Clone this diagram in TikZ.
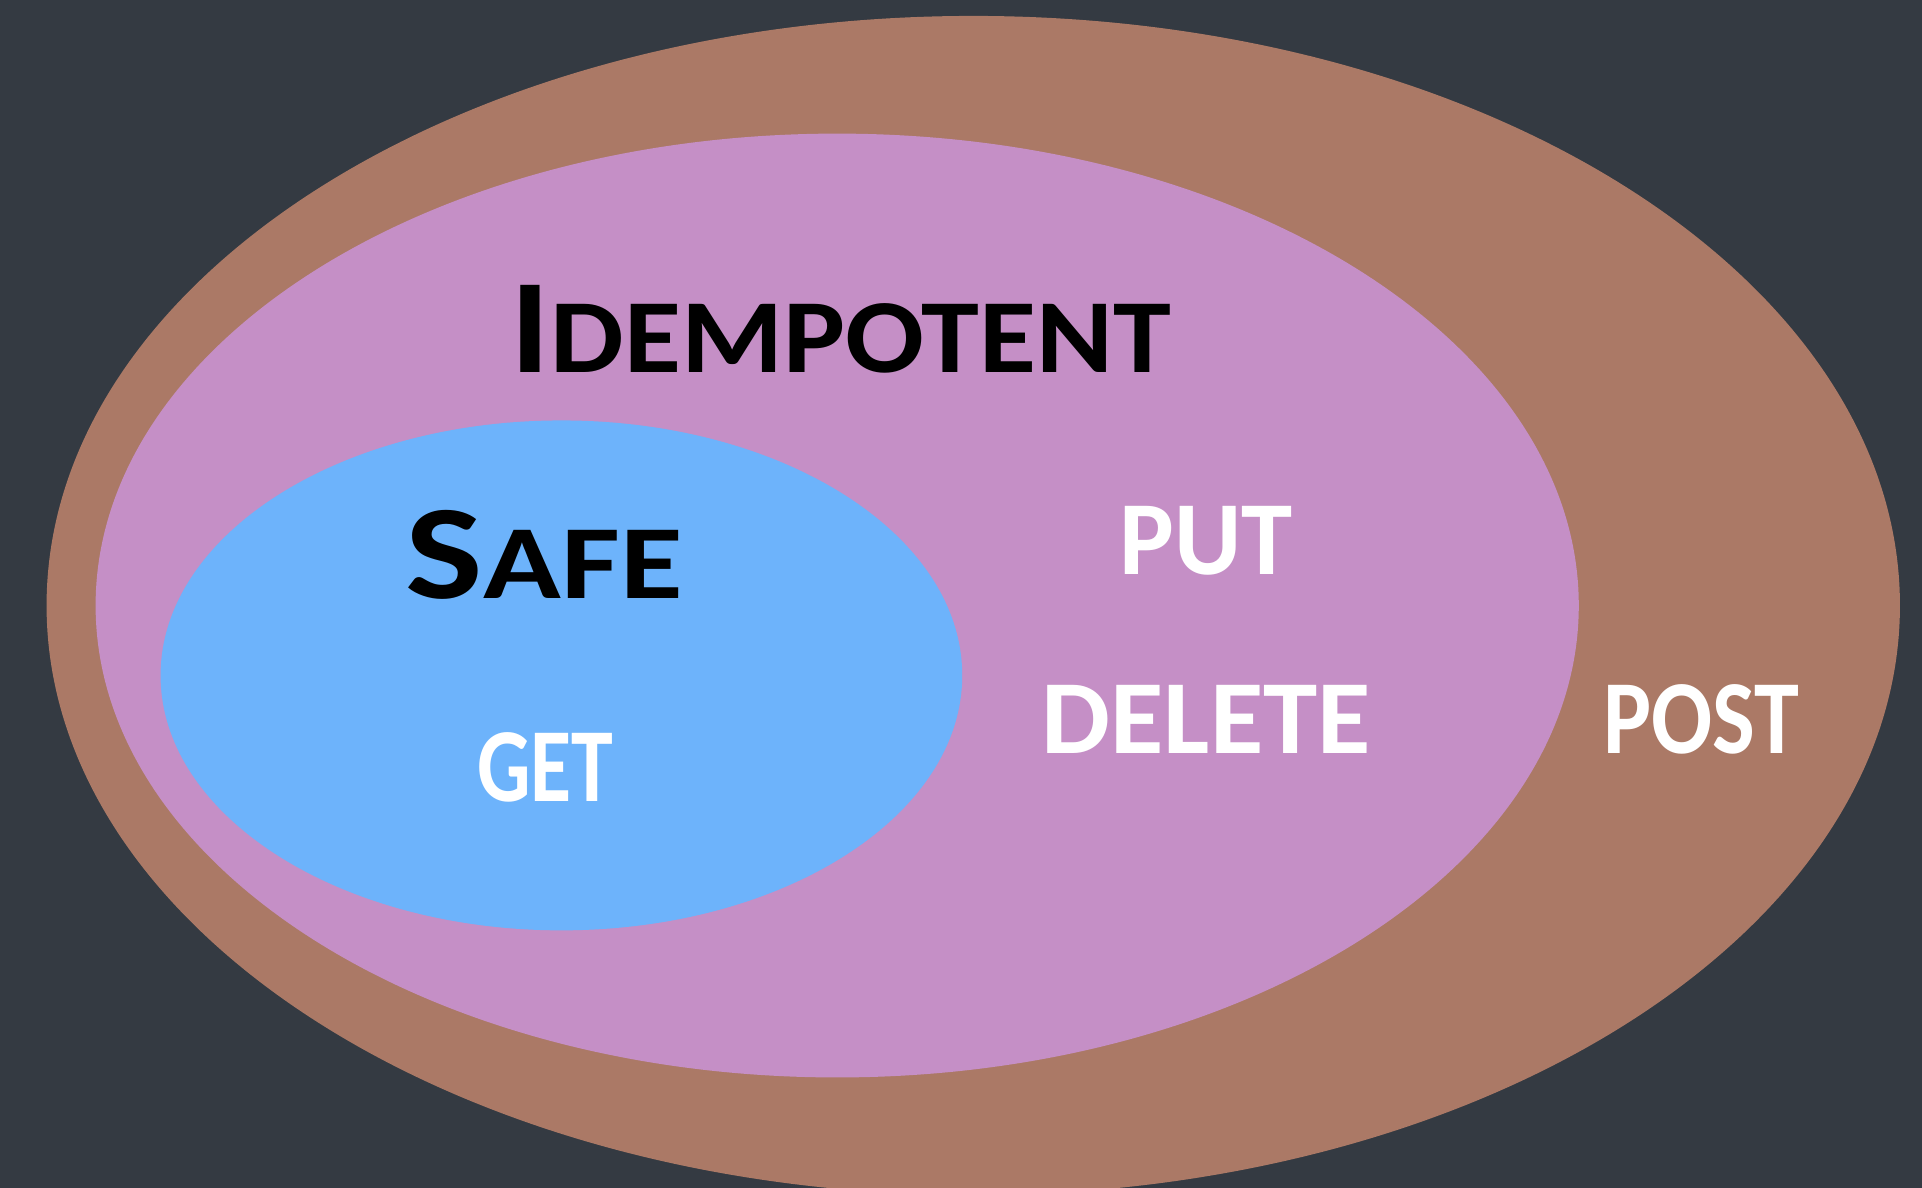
\documentclass[tikz,border=0pt]{standalone}
\usepackage{fontspec}
\usepackage{graphicx}
\setmainfont{Carlito}
\definecolor{bgdark}{HTML}{343A42}
\definecolor{outerbrown}{HTML}{AB7966}
\definecolor{midpink}{HTML}{C58FC6}
\definecolor{innerblue}{HTML}{6DB3FB}
\newcommand{\bigsc}[2]{{\fontsize{78}{78}\selectfont #1}{\fontsize{61}{61}\selectfont #2}}
\newcommand{\wide}[2]{\scalebox{#1}[1]{#2}}
\begin{document}
\begin{tikzpicture}[x=0.025cm,y=0.025cm,
    method/.style={text=white,font=\fontsize{61}{61}\selectfont\bfseries,anchor=base,inner sep=0pt},
    setname/.style={text=black,font=\bfseries,anchor=base,inner sep=0pt}]
        \useasboundingbox (0,0) rectangle (1568,969);
        \clip (0,0) rectangle (1568,969);
        \fill[bgdark] (0,0) rectangle (1568,969);
        % the three sets
        \fill[outerbrown] (794,475) ellipse [x radius=756, y radius=481];
        \fill[midpink] (683,475) ellipse [x radius=605, y radius=385];
        \fill[innerblue] (458,418) ellipse [x radius=327, y radius=208];
        % set names
        \node[setname] (idempotent) at (686,665) {\wide{1.11}{\bigsc{I}{DEMPOTENT}}};
        \node[setname] (safe) at (444,481) {\wide{1.22}{\bigsc{S}{AFE}}};
        % methods
        \node[method] (get) at (445,315) {\wide{0.8}{GET}};
        \node[method] (put) at (984,500) {\wide{0.98}{PUT}};
        \node[method] (delete) at (984,354) {\wide{1.04}{DELETE}};
        \node[method] (post) at (1388,354) {\wide{0.86}{POST}};
    \end{tikzpicture}
\end{document}
